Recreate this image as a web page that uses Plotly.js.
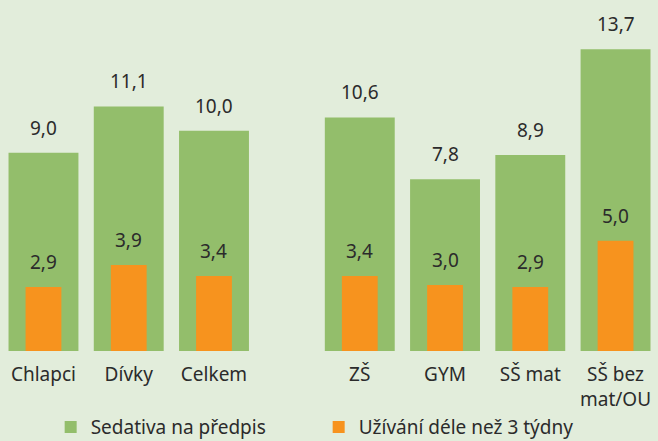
<!DOCTYPE html>
<html>
<head>
<meta charset="utf-8">
<script src="https://cdn.plot.ly/plotly-3.0.1.min.js"></script>
<style>html,body{margin:0;padding:0;background:#e2eddb;}#chart{width:658px;height:441px;}</style>
</head>
<body>
<div id="chart"></div>
<script>
const categories = ['Chlapci', 'Dívky', 'Celkem', 'ZŠ', 'GYM', 'SŠ mat', 'SŠ bez<br>mat/OU'];
const sedativa = [9.0, 11.1, 10.0, 10.6, 7.8, 8.9, 13.7];
const uzivani = [2.9, 3.9, 3.4, 3.4, 3.0, 2.9, 5.0];
const seriesNames = ['Sedativa na předpis', 'Užívání déle než 3 týdny'];

const GREEN = '#93be6b', ORANGE = '#f7931e', TEXT = '#2b2b2b';
const FONT = 'Noto Sans, sans-serif';
// group gap between the first three and the last four categories
const xpos = categories.map((c, i) => i + (i >= 3 ? 0.71 : 0));
const fmt = v => v.toFixed(1).replace('.', ',');

const traces = [
  {type: 'bar', x: xpos, y: sedativa, name: seriesNames[0], width: 0.82,
   marker: {color: GREEN}, hoverinfo: 'skip'},
  {type: 'bar', x: xpos, y: uzivani, name: seriesNames[1], width: 0.42,
   marker: {color: ORANGE}, hoverinfo: 'skip'}
];

const annotations = [];
[sedativa, uzivani].forEach(arr => arr.forEach((v, i) => {
  annotations.push({x: xpos[i], y: v, xref: 'x', yref: 'y', text: fmt(v),
    showarrow: false, yanchor: 'bottom', yshift: 10,
    font: {family: FONT, size: 19, color: TEXT}});
}));

const layout = {
  width: 658, height: 441,
  margin: {l: 0, r: 0, t: 0, b: 90, autoexpand: false},
  paper_bgcolor: '#e2eddb', plot_bgcolor: '#e2eddb',
  barmode: 'overlay',
  font: {family: FONT, size: 19, color: TEXT},
  xaxis: {range: [-0.51, 7.208], tickvals: xpos, ticktext: categories,
    showgrid: false, zeroline: false, showline: false, ticks: '',
    ticklabelstandoff: 10, automargin: false,
    tickfont: {family: FONT, size: 19, color: TEXT}},
  yaxis: {range: [0, 15.93], visible: false, showgrid: false, zeroline: false},
  showlegend: true,
  legend: {orientation: 'h', x: 0.077, xanchor: 'left', y: -0.163, yanchor: 'top',
    font: {family: FONT, size: 19, color: TEXT}, bgcolor: 'rgba(0,0,0,0)',
    entrywidth: 223, itemwidth: 30, traceorder: 'normal'},
  annotations: annotations
};

Plotly.newPlot('chart', traces, layout, {displayModeBar: false, staticPlot: true});
</script>
</body>
</html>
